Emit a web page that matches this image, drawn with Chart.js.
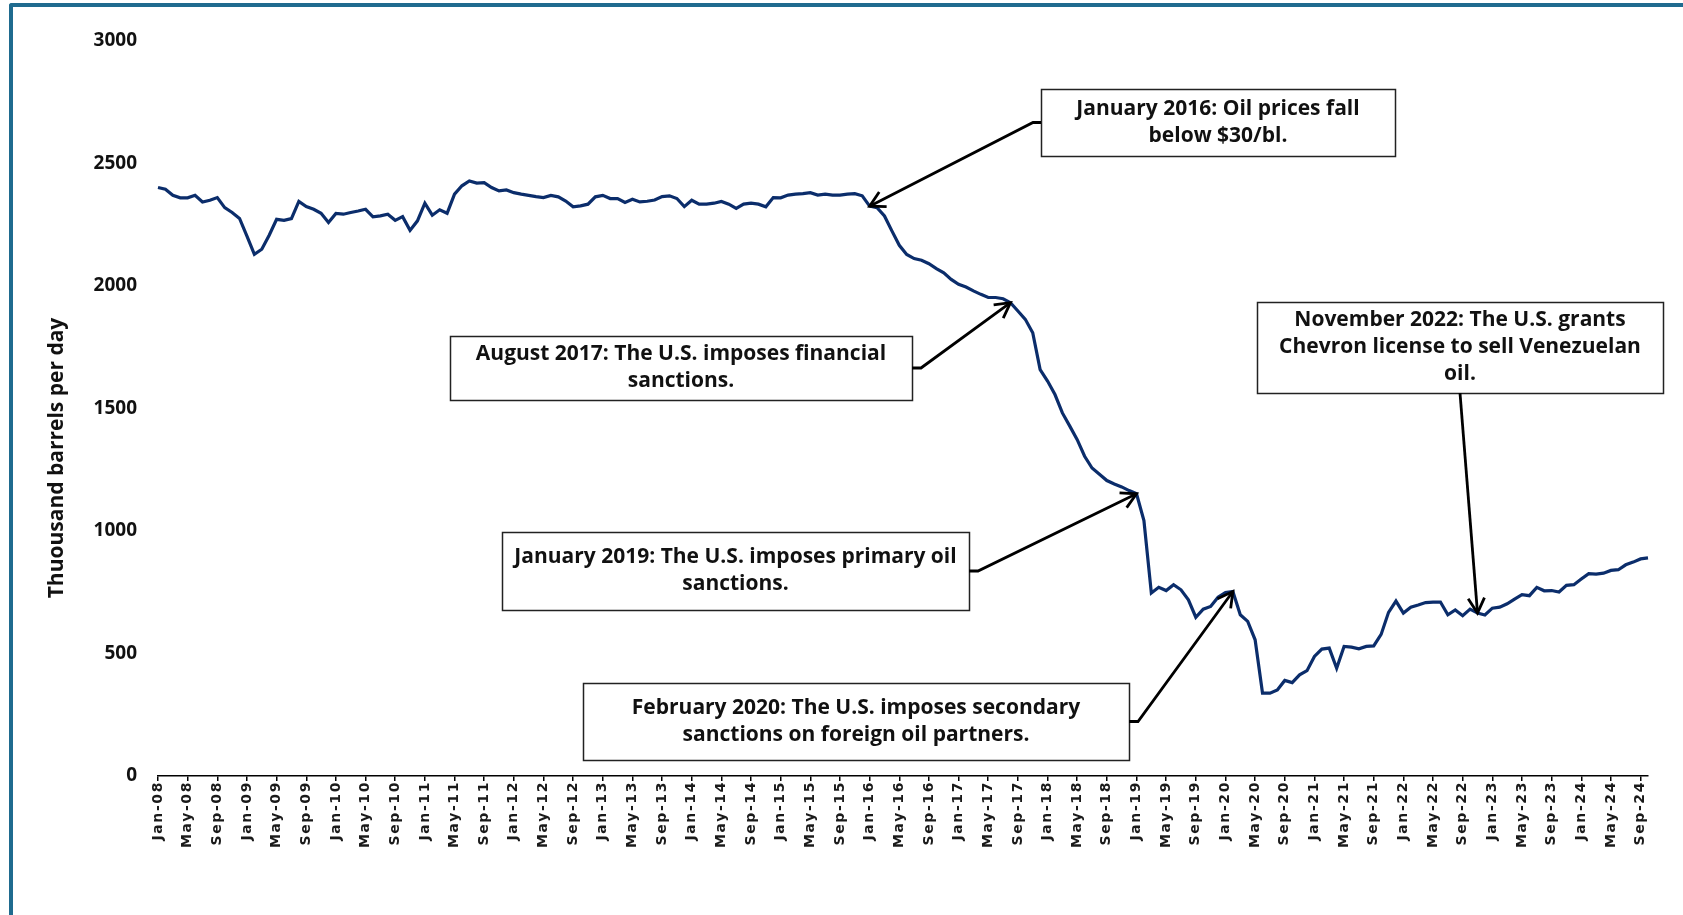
<!DOCTYPE html>
<html>
<head>
<meta charset="utf-8">
<script src="https://cdn.jsdelivr.net/npm/chart.js@4/dist/chart.umd.min.js"></script>
<style>
html,body{margin:0;padding:0;background:#fff;}
#wrap{position:relative;width:1683px;height:915px;overflow:hidden;background:#fff;}
#frame{position:absolute;left:9px;top:3px;width:2000px;height:2000px;border-top:4px solid #1f6b8f;border-left:4px solid #1f6b8f;border-top-left-radius:3px;pointer-events:none;}
canvas{position:absolute;left:0;top:0;}
</style>
</head>
<body>
<div id="wrap"><canvas id="c" width="1683" height="915"></canvas><div id="frame"></div></div>
<script>
// ---- categories (monthly, Jan-08 .. Oct-24) ----
const monthNames = ['Jan','Feb','Mar','Apr','May','Jun','Jul','Aug','Sep','Oct','Nov','Dec'];
const years = ['08','09','10','11','12','13','14','15','16','17','18','19','20','21','22','23','24'];
const lastMonth = 'Oct-24';
const categories = [];
outer:
for (const yy of years) {
  for (const m of monthNames) {
    categories.push(m + '-' + yy);
    if (m + '-' + yy === lastMonth) break outer;
  }
}

// ---- series: crude oil production, thousand barrels per day ----
const production = [
  2402,2395,2370,2360,2360,2370,2343,2350,2361,2320,2300,2276, // 2008
  2204,2129,2150,2207,2272,2268,2275,2345,2324,2313,2297,2259, // 2009
  2296,2293,2300,2306,2313,2282,2286,2293,2268,2283,2227,2266, // 2010
  2338,2289,2311,2297,2375,2409,2429,2420,2422,2402,2388,2392, // 2011
  2381,2375,2370,2365,2361,2370,2364,2347,2323,2327,2334,2364, // 2012
  2370,2357,2357,2341,2354,2343,2346,2351,2365,2368,2357,2324, // 2013
  2350,2334,2334,2338,2345,2334,2317,2334,2338,2334,2323,2361, // 2014
  2360,2371,2375,2377,2381,2371,2375,2371,2371,2375,2377,2368, // 2015
  2326,2320,2286,2225,2166,2129,2112,2105,2091,2071,2054,2027, // 2016
  2007,1996,1980,1966,1953,1953,1948,1932,1898,1864,1809,1659, // 2017
  1612,1557,1482,1428,1373,1305,1257,1232,1206,1192,1180,1165, // 2018
  1152,1043,747,770,757,781,760,719,648,681,692,730,           // 2019
  749,753,658,631,556,338,338,351,390,381,413,430,             // 2020
  488,518,522,440,529,526,519,529,531,578,668,714,             // 2021
  665,689,698,708,710,710,658,678,654,681,665,657,             // 2022
  685,689,703,722,740,736,770,756,757,751,778,781,             // 2023
  804,826,824,828,839,842,862,873,886,890                      // 2024
];

// ---- axis ----
const yTicksMin = 0, yTicksMax = 3000, yTickStep = 500;
const labelEvery = 4;
const yTitle = 'Thuousand barrels per day';

// ---- annotations ----
const eventMonths = ['Jan-16','Aug-17','Jan-19','Feb-20','Nov-22'];
const eventTexts = [
  ['January 2016: Oil prices fall','below $30/bl.'],
  ['August 2017: The U.S. imposes financial','sanctions.'],
  ['January 2019: The U.S. imposes primary oil','sanctions.'],
  ['February 2020: The U.S. imposes secondary','sanctions on foreign oil partners.'],
  ['November 2022: The U.S. grants','Chevron license to sell Venezuelan','oil.']
];
// box geometry (px): left, top, right, bottom ; connector start side
const eventBoxes = [
  {l:1041,t:89, r:1395,b:156, side:'left'},
  {l:450, t:336,r:912, b:400, side:'right'},
  {l:502, t:532,r:969, b:610, side:'right'},
  {l:583, t:683,r:1129,b:760, side:'right'},
  {l:1257,t:302,r:1663,b:393, side:'bottom'}
];

const spacingPlugin = {
  id: 'spacing',
  beforeDraw(chart) { chart.ctx.letterSpacing = '1.6px'; },
  beforeDatasetsDraw(chart) { chart.ctx.letterSpacing = '0px'; }
};

const annotPlugin = {
  id: 'annots',
  afterDraw(chart) {
    const ctx = chart.ctx;
    const xs = chart.scales.x, ys = chart.scales.y;
    ctx.save();
    ctx.letterSpacing = '0px';
    // y-axis title
    ctx.save();
    ctx.translate(57, 458);
    ctx.rotate(-Math.PI / 2);
    ctx.font = 'bold 21px "Open Sans"';
    ctx.fillStyle = '#111';
    ctx.textAlign = 'center';
    ctx.textBaseline = 'middle';
    ctx.fillText(yTitle, 0, 0);
    ctx.restore();

    eventMonths.forEach((m, k) => {
      const idx = categories.indexOf(m);
      const tx = xs.getPixelForValue(idx);
      const ty = ys.getPixelForValue(production[idx]);
      const bx = eventBoxes[k];
      // box
      ctx.fillStyle = '#fff';
      ctx.fillRect(bx.l, bx.t, bx.r - bx.l, bx.b - bx.t);
      ctx.lineWidth = 1.5;
      ctx.strokeStyle = '#222';
      ctx.strokeRect(bx.l + 0.5, bx.t + 0.5, bx.r - bx.l, bx.b - bx.t);
      // text
      const lines = eventTexts[k];
      const lh = 27;
      const cx = (bx.l + bx.r) / 2, cy = (bx.t + bx.b) / 2;
      ctx.font = 'bold 21px "Open Sans"';
      ctx.fillStyle = '#111';
      ctx.textAlign = 'center';
      ctx.textBaseline = 'middle';
      lines.forEach((s, j) => {
        ctx.fillText(s, cx, cy + (j - (lines.length - 1) / 2) * lh);
      });
      // connector
      let sx, sy, ex, ey;
      if (bx.side === 'left') { sx = bx.l; sy = cy; ex = bx.l - 8; ey = cy; }
      else if (bx.side === 'right') { sx = bx.r; sy = cy; ex = bx.r + 9; ey = cy; }
      else { sx = cx; sy = bx.b; ex = cx; ey = bx.b; }
      ctx.strokeStyle = '#000';
      ctx.lineWidth = 2.8;
      ctx.lineJoin = 'miter';
      ctx.lineCap = 'butt';
      ctx.beginPath();
      ctx.moveTo(sx, sy);
      ctx.lineTo(ex, ey);
      ctx.lineTo(tx, ty);
      ctx.stroke();
      // arrow head (open V)
      const ang = Math.atan2(ty - ey, tx - ex);
      const hl = 17, ha = 0.5;
      ctx.beginPath();
      ctx.moveTo(tx - hl * Math.cos(ang - ha), ty - hl * Math.sin(ang - ha));
      ctx.lineTo(tx, ty);
      ctx.lineTo(tx - hl * Math.cos(ang + ha), ty - hl * Math.sin(ang + ha));
      ctx.stroke();
    });
    ctx.restore();
  }
};

new Chart(document.getElementById('c').getContext('2d'), {
  type: 'line',
  data: {
    labels: categories,
    datasets: [{
      data: production,
      borderColor: '#0b2d6b',
      borderWidth: 3.2,
      pointRadius: 0,
      tension: 0,
      fill: false
    }]
  },
  options: {
    responsive: false,
    animation: false,
    layout: { padding: { left: 0, right: 35, top: 41, bottom: 0 } },
    plugins: { legend: { display: false }, tooltip: { enabled: false } },
    scales: {
      x: {
        type: 'category',
        offset: false,
        grid: { display: true, drawOnChartArea: false, drawTicks: true, tickLength: 5, color: '#000', lineWidth: 1.5 },
        border: { display: true, color: '#000', width: 1.5 },
        ticks: {
          autoSkip: false, maxRotation: 90, minRotation: 90, padding: 0,
          font: { family: 'DejaVu Sans', weight: 'bold', size: 14 }, color: '#1a1a1a'
        },
        afterBuildTicks: s => { s.ticks = s.ticks.filter(t => t.value % labelEvery === 0); },
        afterFit: s => { s.height = 139; }
      },
      y: {
        min: yTicksMin, max: yTicksMax,
        ticks: {
          z: 1,
          stepSize: yTickStep, padding: 21,
          font: { family: 'Open Sans', weight: 'bold', size: 19 }, color: '#111',
          callback: v => String(v)
        },
        grid: { display: false, drawTicks: false },
        border: { display: false },
        afterFit: s => { s.width = 158; }
      }
    }
  },
  plugins: [spacingPlugin, annotPlugin]
});
</script>
</body>
</html>
